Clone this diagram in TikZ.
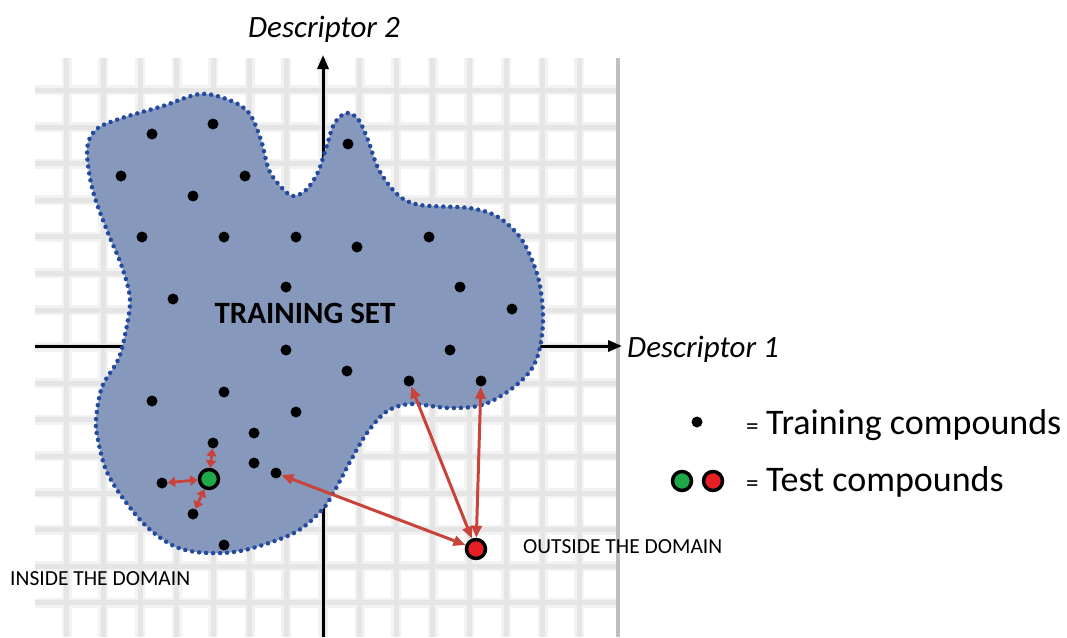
\documentclass[tikz,border=0pt]{standalone}
\usepackage{fontspec}
\setmainfont{Carlito}
\usetikzlibrary{arrows.meta}

\definecolor{blobfill}{RGB}{134,153,189}
\definecolor{blobedge}{RGB}{36,74,160}
\definecolor{arrowred}{RGB}{200,68,58}
\definecolor{testgreen}{RGB}{30,168,74}
\definecolor{testred}{RGB}{232,32,36}

\tikzset{
  gridsoft/.style={line width=10pt, draw=black!5},
  gridcore/.style={line width=5pt, draw=black!10},
  axisline/.style={line width=3pt, draw=black, -{Triangle[length=14pt,width=11pt]}},
  tdot/.style={circle, fill=black, minimum size=11pt, inner sep=0pt},
  testpt/.style={circle, draw=black, line width=3.5pt, minimum size=19pt, inner sep=0pt},
  distarrow/.style={line width=3pt, draw=arrowred,
    {Triangle[length=12pt,width=10pt]}-{Triangle[length=12pt,width=10pt]}},
  nbarrow/.style={line width=2.8pt, draw=arrowred,
    {Triangle[length=7.5pt,width=10pt]}-{Triangle[length=7.5pt,width=10pt]}},
  lbl/.style={inner sep=0pt, text=black},
}

\begin{document}
\begin{tikzpicture}[x=1pt,y=-1pt]
\useasboundingbox (0,0) rectangle (1067,637);
\fill[white] (0,0) rectangle (1067,637);

% background grid
\begin{scope}
  \clip (35,58) rectangle (618,637);
  \foreach \k in {-7,...,7} \draw[gridsoft] ({323+36.6*\k},58) -- ({323+36.6*\k},637);
  \foreach \k in {-7,...,7} \draw[gridsoft] (35,{346.6+36.6*\k}) -- (618,{346.6+36.6*\k});
  \foreach \k in {-7,...,7} \draw[gridcore] ({323+36.6*\k},58) -- ({323+36.6*\k},637);
  \foreach \k in {-7,...,7} \draw[gridcore] (35,{346.6+36.6*\k}) -- (618,{346.6+36.6*\k});
\end{scope}
\draw[line width=4.5pt, black!25] (618,58) -- (618,637);

% axes
\coordinate (ybot) at (323,637);
\coordinate (ytop) at (323,55);
\coordinate (xleft) at (35,346);
\coordinate (xright) at (622,346);
\draw[axisline] (ybot) -- (ytop);
\draw[axisline] (xleft) -- (xright);

% training set region
\draw[fill=blobfill, draw=blobedge, line width=4.5pt, line cap=round,
      dash pattern=on 0pt off 7pt]
  plot[smooth cycle, tension=0.55] coordinates {
    (88,143) (98,128) (122,118) (163,106) (200,94) (229,100) (249,113)
    (261,140) (269,170) (282,188) (293,196) (306,190) (318,172) (327,145)
    (334,124) (346,113) (358,119) (368,140) (379,170) (398,195) (420,205)
    (469,208) (498,217) (522,240) (538,277) (543,315) (540,347) (531,370)
    (510,390) (482,405) (449,408) (410,404) (386,412) (367,433) (351,460)
    (335,490) (322,510) (294,533) (245,550) (208,553) (176,547) (147,527)
    (122,497) (106,470) (98,440) (96,420) (102,387) (118,360) (125,335)
    (130,300) (122,267) (108,233) (94,195) (88,165)};

% training compounds
\node[tdot] (d1)  at (152,134) {};
\node[tdot] (d2)  at (213,124) {};
\node[tdot] (d3)  at (121,176) {};
\node[tdot] (d4)  at (245,176) {};
\node[tdot] (d5)  at (193,196) {};
\node[tdot] (d6)  at (348,144) {};
\node[tdot] (d7)  at (142,237) {};
\node[tdot] (d8)  at (224,237) {};
\node[tdot] (d9)  at (296,237) {};
\node[tdot] (d10) at (357,247) {};
\node[tdot] (d11) at (429,237) {};
\node[tdot] (d12) at (286,287) {};
\node[tdot] (d13) at (460,287) {};
\node[tdot] (d14) at (173,299) {};
\node[tdot] (d15) at (512,309) {};
\node[tdot] (d16) at (286,350) {};
\node[tdot] (d17) at (450,350) {};
\node[tdot] (d18) at (347,371) {};
\node[tdot] (d19) at (409,381) {};
\node[tdot] (d20) at (481,381) {};
\node[tdot] (d21) at (224,392) {};
\node[tdot] (d22) at (152,401) {};
\node[tdot] (d23) at (296,412) {};
\node[tdot] (d24) at (254,433) {};
\node[tdot] (d25) at (213,443) {};
\node[tdot] (d26) at (254,463) {};
\node[tdot] (d27) at (276,473) {};
\node[tdot] (d28) at (162,483) {};
\node[tdot] (d29) at (193,514) {};
\node[tdot] (d30) at (224,545) {};

% test compounds
\node[testpt, fill=testgreen] (tin)  at (209,479) {};
\node[testpt, fill=testred]   (tout) at (476,549) {};

% distances to nearest neighbours
\draw[nbarrow] (tin) -- (d25);
\draw[nbarrow] (tin) -- (d28);
\draw[nbarrow] (tin) -- (d29);
\draw[distarrow] (tout) -- (d27);
\draw[distarrow] (tout) -- (d19);
\draw[distarrow] (tout) -- (d20);

% labels
\node[lbl, anchor=base] (desc2) at (324,37) {\fontsize{31}{36}\selectfont\itshape Descriptor 2};
\node[lbl, anchor=base west] (desc1) at (627,357) {\fontsize{31}{36}\selectfont\itshape Descriptor 1};
\node[lbl, anchor=base] (tset) at (305,323) {\fontsize{31}{36}\selectfont\bfseries TRAINING SET};
\node[lbl, anchor=base west] (inside) at (10,585) {\fontsize{21.5}{25}\selectfont INSIDE THE DOMAIN};
\node[lbl, anchor=base west] (outside) at (523,553) {\fontsize{21.5}{25}\selectfont OUTSIDE THE DOMAIN};

% legend
\node[tdot] (ldot) at (697,422) {};
\node[testpt, fill=testgreen] (lgreen) at (682,481) {};
\node[testpt, fill=testred]   (lred)   at (713,481) {};
\node[lbl, anchor=base west] (leq1) at (746,434) {\fontsize{25}{28}\selectfont =};
\node[lbl, anchor=base west] (ltrain) at (766,434) {\fontsize{36}{42}\selectfont Training compounds};
\node[lbl, anchor=base west] (leq2) at (746,491) {\fontsize{25}{28}\selectfont =};
\node[lbl, anchor=base west] (ltest) at (766,491) {\fontsize{36}{42}\selectfont Test compounds};
\end{tikzpicture}
\end{document}
